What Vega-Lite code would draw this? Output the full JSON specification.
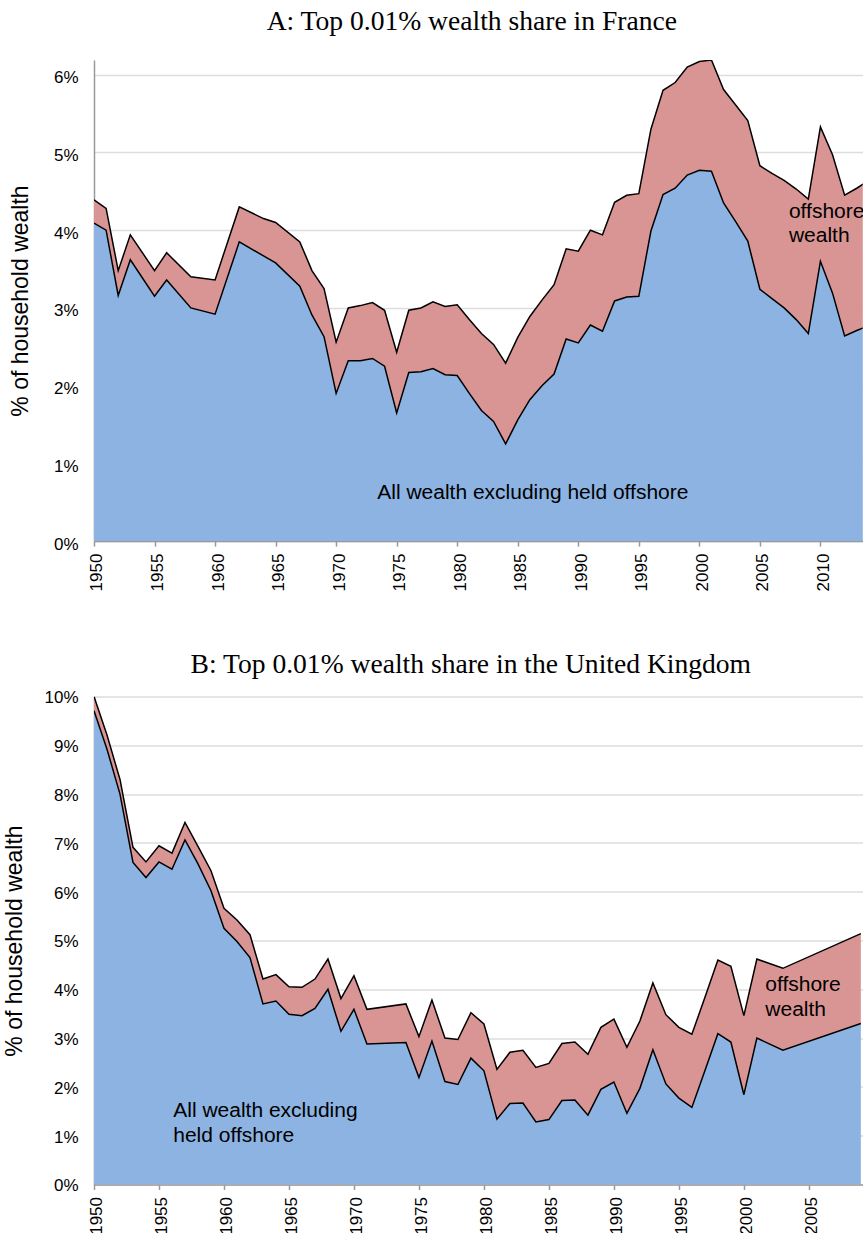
{
  "$schema": "https://vega.github.io/schema/vega-lite/v6.json",
  "background": "white",
  "padding": {"left": 3, "top": 8, "right": 0, "bottom": 0},
  "config": {
    "view": {"stroke": null},
    "axis": {
      "labelFont": "Liberation Sans",
      "labelFontSize": 17,
      "labelColor": "#000000",
      "titleFont": "Liberation Sans",
      "titleFontSize": 23,
      "titleFontWeight": "normal",
      "titleColor": "#000000",
      "domainColor": "#999999",
      "domainWidth": 1.5,
      "gridColor": "#dddddd",
      "gridWidth": 1.5,
      "tickColor": "#999999",
      "tickWidth": 1.5
    },
    "title": {
      "font": "Liberation Serif",
      "fontSize": 27.6,
      "fontWeight": "normal",
      "color": "#000000",
      "frame": "group",
      "anchor": "middle",
      "baseline": "alphabetic"
    }
  },
  "datasets": {
    "france": [
      {"year": 1950, "excl": 4.09, "total": 4.39},
      {"year": 1951, "excl": 4.00, "total": 4.28},
      {"year": 1952, "excl": 3.16, "total": 3.48},
      {"year": 1953, "excl": 3.62, "total": 3.94},
      {"year": 1955, "excl": 3.15, "total": 3.48},
      {"year": 1956, "excl": 3.36, "total": 3.71},
      {"year": 1958, "excl": 3.00, "total": 3.40},
      {"year": 1960, "excl": 2.92, "total": 3.36},
      {"year": 1962, "excl": 3.85, "total": 4.30},
      {"year": 1964, "excl": 3.67, "total": 4.15},
      {"year": 1965, "excl": 3.58, "total": 4.10},
      {"year": 1967, "excl": 3.28, "total": 3.85},
      {"year": 1968, "excl": 2.91, "total": 3.48},
      {"year": 1969, "excl": 2.63, "total": 3.25},
      {"year": 1970, "excl": 1.90, "total": 2.56},
      {"year": 1971, "excl": 2.32, "total": 3.00},
      {"year": 1972, "excl": 2.32, "total": 3.03},
      {"year": 1973, "excl": 2.35, "total": 3.07},
      {"year": 1974, "excl": 2.25, "total": 2.97},
      {"year": 1975, "excl": 1.65, "total": 2.43},
      {"year": 1976, "excl": 2.17, "total": 2.97},
      {"year": 1977, "excl": 2.18, "total": 3.00},
      {"year": 1978, "excl": 2.22, "total": 3.08},
      {"year": 1979, "excl": 2.14, "total": 3.02},
      {"year": 1980, "excl": 2.13, "total": 3.04},
      {"year": 1981, "excl": 1.90, "total": 2.85},
      {"year": 1982, "excl": 1.68, "total": 2.67},
      {"year": 1983, "excl": 1.54, "total": 2.53},
      {"year": 1984, "excl": 1.25, "total": 2.29},
      {"year": 1985, "excl": 1.56, "total": 2.62},
      {"year": 1986, "excl": 1.82, "total": 2.89},
      {"year": 1987, "excl": 2.00, "total": 3.10},
      {"year": 1988, "excl": 2.15, "total": 3.30},
      {"year": 1989, "excl": 2.60, "total": 3.76},
      {"year": 1990, "excl": 2.55, "total": 3.73},
      {"year": 1991, "excl": 2.78, "total": 4.00},
      {"year": 1992, "excl": 2.70, "total": 3.94},
      {"year": 1993, "excl": 3.09, "total": 4.36},
      {"year": 1994, "excl": 3.14, "total": 4.45},
      {"year": 1995, "excl": 3.15, "total": 4.47},
      {"year": 1996, "excl": 3.99, "total": 5.30},
      {"year": 1997, "excl": 4.46, "total": 5.80},
      {"year": 1998, "excl": 4.54, "total": 5.90},
      {"year": 1999, "excl": 4.71, "total": 6.10},
      {"year": 2000, "excl": 4.77, "total": 6.17},
      {"year": 2001, "excl": 4.76, "total": 6.19},
      {"year": 2002, "excl": 4.35, "total": 5.81},
      {"year": 2003, "excl": 4.11, "total": 5.61},
      {"year": 2004, "excl": 3.86, "total": 5.41},
      {"year": 2005, "excl": 3.24, "total": 4.83},
      {"year": 2006, "excl": 3.12, "total": 4.73},
      {"year": 2007, "excl": 3.00, "total": 4.64},
      {"year": 2008, "excl": 2.85, "total": 4.53},
      {"year": 2009, "excl": 2.67, "total": 4.40},
      {"year": 2010, "excl": 3.60, "total": 5.33},
      {"year": 2011, "excl": 3.19, "total": 4.97},
      {"year": 2012, "excl": 2.64, "total": 4.45},
      {"year": 2013, "excl": 2.71, "total": 4.54},
      {"year": 2014, "excl": 2.77, "total": 4.64}
    ],
    "uk": [
      {"year": 1950, "excl": 9.71, "total": 10.0},
      {"year": 1951, "excl": 8.92, "total": 9.21},
      {"year": 1952, "excl": 8.00, "total": 8.30},
      {"year": 1953, "excl": 6.60, "total": 6.91},
      {"year": 1954, "excl": 6.29, "total": 6.61},
      {"year": 1955, "excl": 6.61, "total": 6.94},
      {"year": 1956, "excl": 6.46, "total": 6.79},
      {"year": 1957, "excl": 7.06, "total": 7.42},
      {"year": 1958, "excl": 6.57, "total": 6.93},
      {"year": 1959, "excl": 6.02, "total": 6.43},
      {"year": 1960, "excl": 5.25, "total": 5.66},
      {"year": 1961, "excl": 4.98, "total": 5.42},
      {"year": 1962, "excl": 4.65, "total": 5.12},
      {"year": 1963, "excl": 3.70, "total": 4.21},
      {"year": 1964, "excl": 3.76, "total": 4.30},
      {"year": 1965, "excl": 3.49, "total": 4.05},
      {"year": 1966, "excl": 3.46, "total": 4.04},
      {"year": 1967, "excl": 3.61, "total": 4.21},
      {"year": 1968, "excl": 4.00, "total": 4.62},
      {"year": 1969, "excl": 3.14, "total": 3.81},
      {"year": 1970, "excl": 3.59, "total": 4.28},
      {"year": 1971, "excl": 2.88, "total": 3.59},
      {"year": 1974, "excl": 2.91, "total": 3.70},
      {"year": 1975, "excl": 2.19, "total": 3.03},
      {"year": 1976, "excl": 2.94, "total": 3.78},
      {"year": 1977, "excl": 2.11, "total": 3.00},
      {"year": 1978, "excl": 2.05, "total": 2.97},
      {"year": 1979, "excl": 2.59, "total": 3.52},
      {"year": 1980, "excl": 2.33, "total": 3.29},
      {"year": 1981, "excl": 1.34, "total": 2.36},
      {"year": 1982, "excl": 1.66, "total": 2.71},
      {"year": 1983, "excl": 1.67, "total": 2.75},
      {"year": 1984, "excl": 1.28, "total": 2.40},
      {"year": 1985, "excl": 1.33, "total": 2.48},
      {"year": 1986, "excl": 1.72, "total": 2.89},
      {"year": 1987, "excl": 1.73, "total": 2.92},
      {"year": 1988, "excl": 1.42, "total": 2.67},
      {"year": 1989, "excl": 1.95, "total": 3.22},
      {"year": 1990, "excl": 2.10, "total": 3.39},
      {"year": 1991, "excl": 1.46, "total": 2.81},
      {"year": 1992, "excl": 1.97, "total": 3.35},
      {"year": 1993, "excl": 2.76, "total": 4.13},
      {"year": 1994, "excl": 2.06, "total": 3.48},
      {"year": 1995, "excl": 1.77, "total": 3.22},
      {"year": 1996, "excl": 1.58, "total": 3.08},
      {"year": 1997, "excl": 2.33, "total": 3.83},
      {"year": 1998, "excl": 3.09, "total": 4.60},
      {"year": 1999, "excl": 2.92, "total": 4.47},
      {"year": 2000, "excl": 1.84, "total": 3.46},
      {"year": 2001, "excl": 3.00, "total": 4.62},
      {"year": 2003, "excl": 2.75, "total": 4.43},
      {"year": 2009, "excl": 3.30, "total": 5.14}
    ],
    "labelsA": [
      {"year": 1973.4, "value": 0.54, "label": "All wealth excluding held offshore"},
      {"year": 2007.4, "value": 4.163, "label": ["offshore", "wealth"]}
    ],
    "labelsB": [
      {"year": 1956.1, "value": 1.39, "label": ["All wealth excluding", "held offshore"]},
      {"year": 2001.65, "value": 3.97, "label": ["offshore", "wealth"]}
    ]
  },
  "concat": [
    {
      "width": 768.8,
      "height": 481.1,
      "title": {"text": "A: Top 0.01% wealth share in France", "dx": -6.6, "offset": 24.2},
      "layer": [
        {
          "data": {"name": "france"},
          "mark": {"type": "area", "color": "#8DB3E2", "clip": true},
          "encoding": {
            "x": {
              "field": "year", "type": "quantitative", "title": null,
              "scale": {"domain": [1950, 2013.5], "nice": false, "zero": false},
              "axis": {"values": [1950, 1955, 1960, 1965, 1970, 1975, 1980, 1985, 1990, 1995, 2000, 2005, 2010], "format": "d", "labelAngle": 270, "grid": false, "tickSize": 5, "labelPadding": 7, "labelOffset": 3}
            },
            "y": {
              "field": "excl", "type": "quantitative", "title": "% of household wealth",
              "scale": {"domain": [0, 6.19], "nice": false},
              "axis": {"values": [0, 1, 2, 3, 4, 5, 6], "labelExpr": "datum.value + '%'", "ticks": false, "labelPadding": 16, "titlePadding": 20.5, "labelOffset": 3, "grid": true}
            }
          }
        },
        {
          "data": {"name": "france"},
          "mark": {"type": "area", "color": "#D99594", "clip": true},
          "encoding": {
            "x": {"field": "year", "type": "quantitative", "title": null},
            "y": {"field": "total", "type": "quantitative", "title": "% of household wealth"},
            "y2": {"field": "excl"}
          }
        },
        {
          "data": {"name": "france"},
          "mark": {"type": "line", "color": "#000000", "strokeWidth": 1.5, "clip": true},
          "encoding": {
            "x": {"field": "year", "type": "quantitative", "title": null},
            "y": {"field": "excl", "type": "quantitative", "title": "% of household wealth"}
          }
        },
        {
          "data": {"name": "france"},
          "mark": {"type": "line", "color": "#000000", "strokeWidth": 1.5, "clip": true},
          "encoding": {
            "x": {"field": "year", "type": "quantitative", "title": null},
            "y": {"field": "total", "type": "quantitative", "title": "% of household wealth"}
          }
        },
        {
          "data": {"name": "labelsA"},
          "mark": {"type": "text", "align": "left", "baseline": "alphabetic", "font": "Liberation Sans", "fontSize": 21, "lineHeight": 24, "color": "#000000"},
          "encoding": {
            "x": {"field": "year", "type": "quantitative", "title": null},
            "y": {"field": "value", "type": "quantitative", "title": "% of household wealth"},
            "text": {"field": "label"}
          }
        }
      ]
    },
    {
      "width": 768.8,
      "height": 488,
      "title": {"text": "B: Top 0.01% wealth share in the United Kingdom", "dx": -7.6, "offset": 10.2},
      "layer": [
        {
          "data": {"name": "uk"},
          "mark": {"type": "area", "color": "#8DB3E2", "clip": true},
          "encoding": {
            "x": {
              "field": "year", "type": "quantitative", "title": null,
              "scale": {"domain": [1950, 2009.15], "nice": false, "zero": false},
              "axis": {"values": [1950, 1955, 1960, 1965, 1970, 1975, 1980, 1985, 1990, 1995, 2000, 2005], "format": "d", "labelAngle": 270, "grid": false, "tickSize": 5, "labelPadding": 7, "labelOffset": 3}
            },
            "y": {
              "field": "excl", "type": "quantitative", "title": "% of household wealth",
              "scale": {"domain": [0, 10], "nice": false},
              "axis": {"values": [0, 1, 2, 3, 4, 5, 6, 7, 8, 9, 10], "labelExpr": "datum.value + '%'", "ticks": false, "labelPadding": 16, "titlePadding": 17.2, "labelOffset": 1.5, "grid": true}
            }
          }
        },
        {
          "data": {"name": "uk"},
          "mark": {"type": "area", "color": "#D99594", "clip": true},
          "encoding": {
            "x": {"field": "year", "type": "quantitative", "title": null},
            "y": {"field": "total", "type": "quantitative", "title": "% of household wealth"},
            "y2": {"field": "excl"}
          }
        },
        {
          "data": {"name": "uk"},
          "mark": {"type": "line", "color": "#000000", "strokeWidth": 1.5, "clip": true},
          "encoding": {
            "x": {"field": "year", "type": "quantitative", "title": null},
            "y": {"field": "excl", "type": "quantitative", "title": "% of household wealth"}
          }
        },
        {
          "data": {"name": "uk"},
          "mark": {"type": "line", "color": "#000000", "strokeWidth": 1.5, "clip": true},
          "encoding": {
            "x": {"field": "year", "type": "quantitative", "title": null},
            "y": {"field": "total", "type": "quantitative", "title": "% of household wealth"}
          }
        },
        {
          "data": {"name": "labelsB"},
          "mark": {"type": "text", "align": "left", "baseline": "alphabetic", "font": "Liberation Sans", "fontSize": 21, "lineHeight": 25, "color": "#000000"},
          "encoding": {
            "x": {"field": "year", "type": "quantitative", "title": null},
            "y": {"field": "value", "type": "quantitative", "title": "% of household wealth"},
            "text": {"field": "label"}
          }
        }
      ]
    }
  ],
  "columns": 1,
  "spacing": 59.5
}
